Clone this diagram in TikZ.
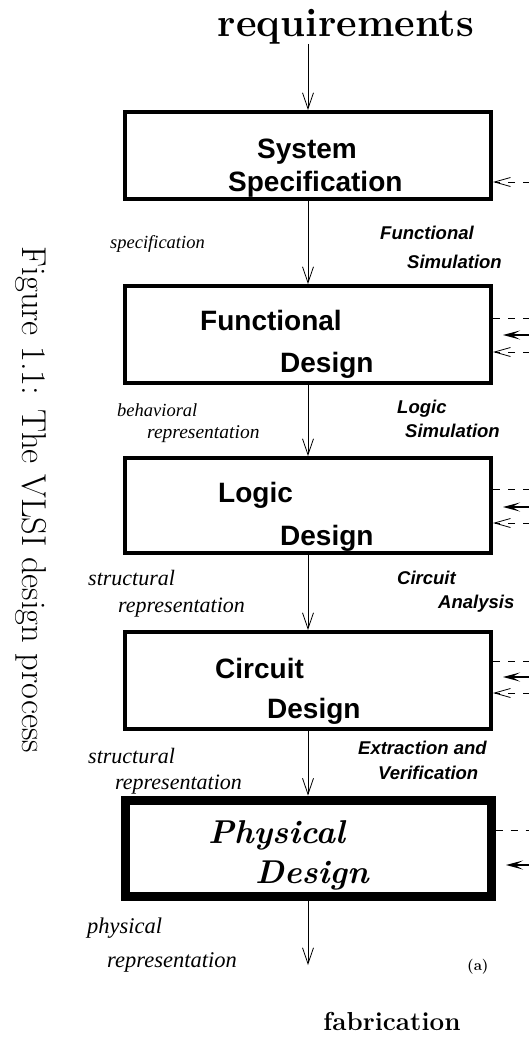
\documentclass[tikz,border=0pt]{standalone}
\usepackage{fontspec}
\newfontfamily\labelsans{Liberation Sans}
\newfontfamily\labelserif{Liberation Serif}
\usetikzlibrary{arrows.meta}

\tikzset{
  stage/.style={draw, line width=4pt, minimum width=366pt, inner sep=0pt},
  finalstage/.style={stage, line width=9pt},
  boxtext/.style={anchor=base west, inner sep=0pt,
    font=\labelsans\bfseries\fontsize{28}{34}\selectfont},
  phystext/.style={anchor=base west, inner sep=0pt,
    font=\bfseries\itshape\fontsize{33}{40}\selectfont},
  leftnote/.style={anchor=base west, inner sep=0pt, font=\labelserif\itshape},
  rightnote/.style={anchor=base west, inner sep=0pt,
    font=\labelsans\bfseries\itshape\fontsize{18.5}{22}\selectfont},
  flow/.style={line width=0.8pt, -{Straight Barb[length=16pt,width=11pt]}},
  feedout/.style={line width=0.8pt, dash pattern=on 7pt off 8pt},
  feedin/.style={line width=0.8pt, dash pattern=on 7pt off 8pt,
    -{Straight Barb[length=16pt,width=9pt]}},
  feedhead/.style={line width=1.2pt, -{Stealth[length=17pt,width=9pt,inset=8pt]}},
}

\begin{document}
\begin{tikzpicture}[x=1pt, y=-1pt]
  \useasboundingbox (0,0) rectangle (529,1037);
  \clip (0,0) rectangle (529,1037);

  % caption, set sideways
  \node[rotate=-90, anchor=base, inner sep=0pt, font=\fontsize{34.5}{40}\selectfont]
    (caption) at (22,500) {Figure 1.1: The VLSI design process};

  % input and output
  \node[anchor=base, inner sep=0pt, font=\bfseries\fontsize{40}{46}\selectfont]
    (req) at (346,36) {requirements};
  \node[anchor=base, inner sep=0pt, font=\bfseries\fontsize{26}{30}\selectfont]
    (fab) at (392,1030) {fabrication};
  \node[anchor=base west, inner sep=0pt, font=\bfseries\fontsize{15}{18}\selectfont]
    (tag) at (467,970) {(a)};

  % design stages
  \node[stage, minimum height=87pt] (b1) at (308,155.5) {};
  \node[stage, minimum height=97pt] (b2) at (308,334.5) {};
  \node[stage, minimum height=95pt] (b3) at (308,505.5) {};
  \node[stage, minimum height=97pt] (b4) at (308,680.5) {};
  \node[finalstage, minimum height=96pt] (b5) at (308,848) {};

  \node[boxtext] (b1a) at (257,158) {System};
  \node[boxtext] (b1b) at (228,191) {Specification};
  \node[boxtext] (b2a) at (200,330) {Functional};
  \node[boxtext] (b2b) at (280,372) {Design};
  \node[boxtext] (b3a) at (218,502) {Logic};
  \node[boxtext] (b3b) at (280,545) {Design};
  \node[boxtext] (b4a) at (215,678) {Circuit};
  \node[boxtext] (b4b) at (267,718) {Design};
  \node[phystext] (b5a) at (208,843) {Physical};
  \node[phystext] (b5b) at (255,883) {Design};

  % representations passed down the flow
  \node[leftnote, font=\labelserif\itshape\fontsize{18.5}{22}\selectfont] (l1) at (110,248) {specification};
  \node[leftnote, font=\labelserif\itshape\fontsize{18.5}{22}\selectfont] (l2a) at (117,416) {behavioral};
  \node[leftnote, font=\labelserif\itshape\fontsize{19.5}{22}\selectfont] (l2b) at (147,438) {representation};
  \node[leftnote, font=\labelserif\itshape\fontsize{22}{26}\selectfont] (l3a) at (88,585) {structural};
  \node[leftnote, font=\labelserif\itshape\fontsize{22}{26}\selectfont] (l3b) at (118,612) {representation};
  \node[leftnote, font=\labelserif\itshape\fontsize{22}{26}\selectfont] (l4a) at (88,763) {structural};
  \node[leftnote, font=\labelserif\itshape\fontsize{22}{26}\selectfont] (l4b) at (115,789) {representation};
  \node[leftnote, font=\labelserif\itshape\fontsize{22.5}{26}\selectfont] (l5a) at (87,933) {physical};
  \node[leftnote, font=\labelserif\itshape\fontsize{22.5}{26}\selectfont] (l5b) at (107,967) {representation};

  % verification steps
  \node[rightnote] (r1a) at (380,239) {Functional};
  \node[rightnote] (r1b) at (407,268) {Simulation};
  \node[rightnote] (r2a) at (397,413) {Logic};
  \node[rightnote] (r2b) at (405,437) {Simulation};
  \node[rightnote] (r3a) at (397,584) {Circuit};
  \node[rightnote] (r3b) at (438,608) {Analysis};
  \node[rightnote] (r4a) at (358,754) {Extraction and};
  \node[rightnote] (r4b) at (378,779) {Verification};

  % main flow
  \coordinate (out) at (308,965);
  \draw[flow] (b1.north |- req.south) -- (b1.north);
  \draw[flow] (b1) -- (b2);
  \draw[flow] (b2) -- (b3);
  \draw[flow] (b3) -- (b4);
  \draw[flow] (b4) -- (b5);
  \draw[flow] (b5) -- (out);

  % feedback loops leaving to the right
  \coordinate (i1) at (545,182);
  \draw[feedin] (i1) -- (b1.east |- i1);

  \coordinate (o2) at (545,318);
  \coordinate (h2s) at (570,335);
  \coordinate (h2) at (503,335);
  \coordinate (i2) at (545,352);
  \draw[feedout] (b2.east |- o2) -- (o2);
  \draw[feedhead] (h2s) -- (h2);
  \draw[feedin] (i2) -- (b2.east |- i2);

  \coordinate (o3) at (545,489);
  \coordinate (h3s) at (570,507);
  \coordinate (h3) at (503,507);
  \coordinate (i3) at (545,523);
  \draw[feedout] (b3.east |- o3) -- (o3);
  \draw[feedhead] (h3s) -- (h3);
  \draw[feedin] (i3) -- (b3.east |- i3);

  \coordinate (o4) at (545,661);
  \coordinate (h4s) at (570,677);
  \coordinate (h4) at (503,677);
  \coordinate (i4) at (545,693);
  \draw[feedout] (b4.east |- o4) -- (o4);
  \draw[feedhead] (h4s) -- (h4);
  \draw[feedin] (i4) -- (b4.east |- i4);

  \coordinate (o5) at (545,830);
  \coordinate (h5s) at (570,865);
  \coordinate (h5) at (506,865);
  \draw[feedout] (b5.east |- o5) -- (o5);
  \draw[feedhead] (h5s) -- (h5);
\end{tikzpicture}
\end{document}
